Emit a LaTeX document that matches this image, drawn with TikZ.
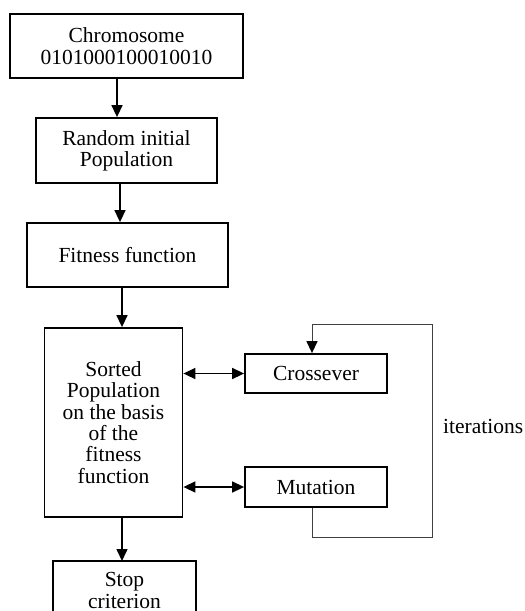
\documentclass[tikz,border=0pt]{standalone}
\usepackage{fontspec}
\setmainfont{Liberation Serif}
\usetikzlibrary{arrows.meta,calc}
\begin{document}
\begin{tikzpicture}[x=1pt,y=1pt,
  box/.style={draw,line width=1.8pt,align=center,inner sep=0pt,
    font=\fontsize{21.5}{21.3}\selectfont},
  arr/.style={line width=1.5pt,-{Triangle[length=12pt,width=11pt]}},
  darr/.style={line width=1.5pt,{Triangle[length=12pt,width=11pt]}-{Triangle[length=12pt,width=11pt]}},
  loopline/.style={line width=1pt,draw=black!75}]
\useasboundingbox (0,0) rectangle (525,-611);
\clip (0,0) rectangle (525,-611);
\node[box,minimum width=233,minimum height=64] (chrom) at (126.5,-46) {Chromosome\\0101000100010010};
\node[box,minimum width=181,minimum height=65] (rand) at (126.5,-150.5) {Random initial\\Population};
\node[box,minimum width=201,minimum height=64] (fit) at (127.5,-255) {Fitness function};
\node[box,minimum width=138,minimum height=189] (sort) at (113.5,-422.5) {Sorted\\Population\\on the basis\\of the\\fitness\\function};
\node[box,minimum width=142,minimum height=39] (cross) at (316,-373.5) {Crossever};
\node[box,minimum width=142,minimum height=40] (mut) at (316,-487) {Mutation};
\node[box,draw=none] (stop) at (124.5,-590.5) {Stop\\criterion};
\draw[line width=1.8pt] ($(stop.center)+(-71.5,29.5)$) rectangle ($(stop.center)+(71.5,-36)$);
\node[anchor=west,inner sep=0pt,font=\fontsize{21.5}{21.3}\selectfont] (iter) at (443,-426) {iterations};
\coordinate (lr) at (432,-537);
\coordinate (ur) at (432,-324);
\draw[arr] ($(chrom.south)+(-9.5,0)$) -- ($(rand.north)+(-9.5,0)$);
\draw[arr] ($(rand.south)+(-6.5,0)$) -- ($(fit.north)+(-7.5,0)$);
\draw[arr] ($(fit.south)+(-5.5,0)$) -- ($(sort.north)+(8.5,0)$);
\draw[arr] ($(sort.south)+(8.5,0)$) -- ($(stop.center)+(-2.5,29.5)$);
\draw[darr] (sort.east |- cross.west) -- (cross.west);
\draw[darr] (sort.east |- mut.west) -- (mut.west);
\draw[loopline] ($(mut.south)+(-4,0)$) |- (lr) -- (ur) -| ($(cross.north)+(-4,8)$);
\draw[arr,line width=1.3pt] ($(cross.north)+(-4,9)$) -- ($(cross.north)+(-4,0)$);
\end{tikzpicture}
\end{document}
